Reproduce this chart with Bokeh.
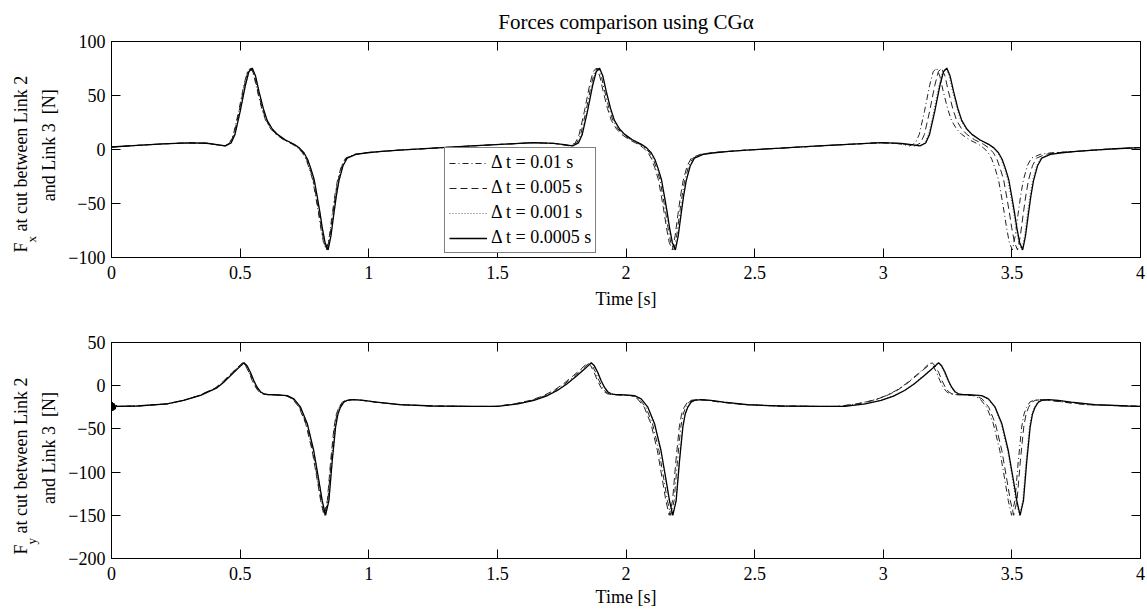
import math
from bokeh.plotting import figure
from bokeh.models import Range1d, LinearAxis, FixedTicker, Legend, LegendItem
from bokeh.layouts import column, row
from bokeh.embed import file_html
from bokeh.resources import INLINE
from bokeh.core.properties import value

FONT = "Liberation Serif"

# ---------------- data ----------------
title_text = "Forces comparison using CG\u03b1"
series_names = ["\u0394 t = 0.01 s", "\u0394 t = 0.005 s", "\u0394 t = 0.001 s", "\u0394 t = 0.0005 s"]

x_ticks = [0, 0.5, 1, 1.5, 2, 2.5, 3, 3.5, 4]
x_tick_labels = ["0", "0.5", "1", "1.5", "2", "2.5", "3", "3.5", "4"]
fx_ticks = [-100, -50, 0, 50, 100]
fx_tick_labels = ["\u2212100", "\u221250", "0", "50", "100"]
fy_ticks = [-200, -150, -100, -50, 0, 50]
fy_tick_labels = ["\u2212200", "\u2212150", "\u2212100", "\u221250", "0", "50"]

# y-axis label pieces: main letter, subscript, rest of line 1, line 2
fx_label = ["F", "x", "at cut between Link 2", "and Link 3\u00a0 [N]"]
fy_label = ["F", "y", "at cut between Link 2", "and Link 3\u00a0 [N]"]

# Fx values, common to all four step sizes
fx_v_start = [2.3, 3.8, 5.2, 6.2, 5.8, 4.5]
fx_v_cycle = [3.3, 6, 14, 35, 59, 72, 75.4, 68, 54, 38, 27, 19, 14, 9, 4.8, 1.5, -3, -9, -17, -28,
              -44, -58, -72, -86, -93, -80, -60, -43, -29, -15, -8, -4.5, -3]
fx_v_mid = [-1.8, -0.5, 1.2, 3.3, 5.2, 6.3, 5.6, 4.5]
fx_v_end = [-1.8, -0.5, 0.7, 1.8]
fx_v = fx_v_start + fx_v_cycle + fx_v_mid + fx_v_cycle + fx_v_mid + fx_v_cycle + fx_v_end

fx_t_0005 = [0.00, 0.10, 0.20, 0.30, 0.37, 0.41,
             0.443, 0.465, 0.48, 0.50, 0.52, 0.534, 0.547, 0.56, 0.573, 0.59, 0.605, 0.625, 0.645, 0.675, 0.71,
             0.73, 0.748, 0.762, 0.774, 0.788, 0.80, 0.81, 0.819, 0.83, 0.842, 0.853, 0.864, 0.874, 0.884,
             0.90, 0.916, 0.95, 0.994,
             1.05, 1.12, 1.25, 1.40, 1.55, 1.64, 1.72, 1.76,
             1.793, 1.815, 1.83, 1.85, 1.87, 1.884, 1.897, 1.91, 1.923, 1.94, 1.955, 1.975, 1.995, 2.025, 2.06,
             2.08, 2.098, 2.112, 2.124, 2.138, 2.15, 2.16, 2.169, 2.18, 2.192, 2.203, 2.214, 2.224, 2.234,
             2.25, 2.266, 2.30, 2.344,
             2.40, 2.47, 2.60, 2.75, 2.90, 2.99, 3.07, 3.11,
             3.143, 3.165, 3.18, 3.20, 3.22, 3.234, 3.247, 3.26, 3.273, 3.29, 3.305, 3.325, 3.345, 3.375, 3.41,
             3.43, 3.448, 3.462, 3.474, 3.488, 3.50, 3.51, 3.519, 3.53, 3.542, 3.553, 3.564, 3.574, 3.584,
             3.60, 3.616, 3.65, 3.694,
             3.75, 3.82, 3.90, 4.00]
fx_t_001 = [0.00, 0.10, 0.20, 0.30, 0.37, 0.41,
            0.443, 0.465, 0.48, 0.50, 0.52, 0.534, 0.547, 0.56, 0.573, 0.59, 0.605, 0.625, 0.645, 0.675, 0.71,
            0.73, 0.748, 0.762, 0.774, 0.788, 0.80, 0.81, 0.819, 0.83, 0.842, 0.853, 0.864, 0.874, 0.884,
            0.90, 0.916, 0.95, 0.994,
            1.05, 1.12, 1.25, 1.40, 1.55, 1.64, 1.72, 1.76,
            1.792, 1.814, 1.829, 1.849, 1.869, 1.883, 1.896, 1.909, 1.922, 1.939, 1.954, 1.974, 1.994, 2.024,
            2.059, 2.079, 2.097, 2.111, 2.123, 2.137, 2.149, 2.159, 2.168, 2.179, 2.191, 2.202, 2.213, 2.223,
            2.233, 2.249, 2.265, 2.299, 2.343,
            2.40, 2.47, 2.60, 2.75, 2.90, 2.99, 3.07, 3.105,
            3.139, 3.161, 3.176, 3.196, 3.216, 3.230, 3.243, 3.256, 3.269, 3.286, 3.301, 3.321, 3.341, 3.371,
            3.406, 3.426, 3.444, 3.458, 3.470, 3.484, 3.496, 3.506, 3.515, 3.526, 3.538, 3.549, 3.560, 3.570,
            3.580, 3.596, 3.612, 3.646, 3.690,
            3.75, 3.82, 3.90, 4.00]
fx_t_005 = [0.00, 0.10, 0.20, 0.30, 0.37, 0.407,
            0.439, 0.461, 0.476, 0.496, 0.516, 0.530, 0.543, 0.556, 0.569, 0.586, 0.601, 0.621, 0.641, 0.671,
            0.706, 0.726, 0.744, 0.758, 0.770, 0.784, 0.796, 0.806, 0.815, 0.826, 0.838, 0.849, 0.860, 0.870,
            0.880, 0.896, 0.912, 0.946, 0.990,
            1.05, 1.12, 1.25, 1.40, 1.55, 1.64, 1.72, 1.75,
            1.781, 1.803, 1.818, 1.838, 1.858, 1.872, 1.885, 1.898, 1.911, 1.928, 1.943, 1.963, 1.983, 2.013,
            2.048, 2.068, 2.086, 2.100, 2.112, 2.126, 2.138, 2.148, 2.157, 2.168, 2.180, 2.191, 2.202, 2.212,
            2.222, 2.238, 2.254, 2.288, 2.332,
            2.40, 2.47, 2.60, 2.75, 2.90, 2.99, 3.06, 3.095,
            3.123, 3.145, 3.16, 3.18, 3.20, 3.214, 3.227, 3.24, 3.253, 3.27, 3.285, 3.305, 3.325, 3.355, 3.39,
            3.41, 3.428, 3.442, 3.454, 3.468, 3.48, 3.49, 3.499, 3.51, 3.522, 3.533, 3.544, 3.554, 3.564,
            3.58, 3.596, 3.63, 3.674,
            3.75, 3.82, 3.90, 4.00]
fx_t_01 = [0.00, 0.10, 0.20, 0.30, 0.37, 0.405,
           0.437, 0.459, 0.474, 0.494, 0.514, 0.528, 0.541, 0.554, 0.567, 0.584, 0.599, 0.619, 0.639, 0.669,
           0.704, 0.724, 0.742, 0.756, 0.768, 0.782, 0.794, 0.804, 0.813, 0.824, 0.836, 0.847, 0.858, 0.868,
           0.878, 0.894, 0.910, 0.944, 0.988,
           1.05, 1.12, 1.25, 1.40, 1.55, 1.64, 1.72, 1.755,
           1.787, 1.809, 1.824, 1.844, 1.864, 1.878, 1.891, 1.904, 1.917, 1.934, 1.949, 1.969, 1.989, 2.019,
           2.054, 2.074, 2.092, 2.106, 2.118, 2.132, 2.144, 2.154, 2.163, 2.174, 2.186, 2.197, 2.208, 2.218,
           2.228, 2.244, 2.260, 2.294, 2.338,
           2.40, 2.47, 2.60, 2.75, 2.90, 2.99, 3.05, 3.08,
           3.103, 3.125, 3.14, 3.16, 3.18, 3.194, 3.207, 3.22, 3.233, 3.25, 3.265, 3.285, 3.305, 3.335, 3.37,
           3.39, 3.408, 3.422, 3.434, 3.448, 3.46, 3.47, 3.479, 3.49, 3.502, 3.513, 3.524, 3.534, 3.544,
           3.56, 3.576, 3.61, 3.654,
           3.75, 3.82, 3.90, 4.00]

# Fy values, common to all four step sizes
fy_v_start = [-24, -19, -29, -20, -28, -21, -27, -23, -24, -23.5, -21, -17, -11.3, -2.5, 5, 11.8, 19.5]
fy_v_cycle = [26.5, 23, 15.6, 6, -1.7, -7, -9.4, -10.3, -10.5, -10.8, -11.5, -15.2, -24.9, -44, -75,
              -109.7, -133, -150, -133, -87, -48, -33, -25, -19, -17, -16, -17, -19, -22]
fy_v_mid = [-23.5, -24, -24, -21, -17, -12, -5.6, 2, 11.8, 19.5]
fy_v_end = [-23.5, -24]
fy_v = fy_v_start + fy_v_cycle + fy_v_mid + fy_v_cycle + fy_v_mid + fy_v_cycle + fy_v_end

fy_t_0005 = [0.000, 0.003, 0.005, 0.007, 0.009, 0.011, 0.014, 0.017, 0.022, 0.10, 0.216, 0.28, 0.346,
             0.41, 0.44, 0.463, 0.49,
             0.515, 0.527, 0.54, 0.553, 0.566, 0.579, 0.592, 0.61, 0.63, 0.655, 0.683, 0.709, 0.735, 0.761,
             0.786, 0.806, 0.819, 0.832, 0.845, 0.858, 0.871, 0.88, 0.89, 0.903, 0.916, 0.942, 0.98, 1.03, 1.123,
             1.25, 1.40, 1.50, 1.58, 1.642, 1.69, 1.733, 1.77, 1.81, 1.84,
             1.865, 1.877, 1.89, 1.903, 1.916, 1.929, 1.942, 1.96, 1.98, 2.005, 2.033, 2.059, 2.085, 2.111,
             2.136, 2.156, 2.169, 2.182, 2.195, 2.208, 2.221, 2.23, 2.24, 2.253, 2.266, 2.292, 2.33, 2.38, 2.473,
             2.6, 2.75, 2.85, 2.93, 2.992, 3.04, 3.083, 3.12, 3.16, 3.19,
             3.215, 3.227, 3.24, 3.253, 3.266, 3.279, 3.292, 3.31, 3.33, 3.355, 3.383, 3.409, 3.435, 3.461,
             3.486, 3.506, 3.519, 3.532, 3.545, 3.558, 3.571, 3.58, 3.59, 3.603, 3.616, 3.642, 3.68, 3.73, 3.823,
             3.95, 4.0]
fy_t_001 = [0.000, 0.003, 0.005, 0.007, 0.009, 0.011, 0.014, 0.017, 0.022, 0.10, 0.216, 0.28, 0.346,
            0.41, 0.44, 0.463, 0.49,
            0.515, 0.527, 0.54, 0.553, 0.566, 0.579, 0.592, 0.61, 0.63, 0.655, 0.683, 0.709, 0.735, 0.761,
            0.786, 0.806, 0.819, 0.832, 0.845, 0.858, 0.871, 0.88, 0.89, 0.903, 0.916, 0.942, 0.98, 1.03, 1.123,
            1.25, 1.40, 1.50, 1.58, 1.641, 1.689, 1.732, 1.769, 1.809, 1.839,
            1.864, 1.876, 1.889, 1.902, 1.915, 1.928, 1.941, 1.959, 1.979, 2.004, 2.032, 2.058, 2.084, 2.110,
            2.135, 2.155, 2.168, 2.181, 2.194, 2.207, 2.220, 2.229, 2.239, 2.252, 2.265, 2.291, 2.329, 2.379,
            2.472,
            2.6, 2.75, 2.85, 2.927, 2.989, 3.037, 3.080, 3.117, 3.157, 3.187,
            3.212, 3.224, 3.237, 3.250, 3.263, 3.276, 3.289, 3.307, 3.327, 3.352, 3.380, 3.406, 3.432, 3.458,
            3.483, 3.503, 3.516, 3.529, 3.542, 3.555, 3.568, 3.577, 3.587, 3.600, 3.613, 3.639, 3.677, 3.727,
            3.82,
            3.95, 4.0]
fy_t_005 = [0.000, 0.003, 0.005, 0.007, 0.009, 0.011, 0.014, 0.017, 0.022, 0.10, 0.216, 0.28, 0.34,
            0.404, 0.434, 0.457, 0.484,
            0.509, 0.521, 0.534, 0.547, 0.560, 0.573, 0.586, 0.604, 0.624, 0.649, 0.677, 0.703, 0.729, 0.755,
            0.780, 0.800, 0.813, 0.826, 0.839, 0.852, 0.865, 0.874, 0.884, 0.897, 0.910, 0.936, 0.974, 1.024,
            1.117,
            1.25, 1.40, 1.49, 1.566, 1.628, 1.676, 1.719, 1.756, 1.796, 1.826,
            1.851, 1.863, 1.876, 1.889, 1.902, 1.915, 1.928, 1.946, 1.966, 1.991, 2.019, 2.045, 2.071, 2.097,
            2.122, 2.142, 2.155, 2.168, 2.181, 2.194, 2.207, 2.216, 2.226, 2.239, 2.252, 2.278, 2.316, 2.366,
            2.459,
            2.6, 2.75, 2.82, 2.90, 2.962, 3.01, 3.053, 3.09, 3.13, 3.16,
            3.19, 3.202, 3.215, 3.228, 3.241, 3.254, 3.267, 3.285, 3.305, 3.33, 3.358, 3.384, 3.41, 3.436,
            3.461, 3.481, 3.494, 3.507, 3.52, 3.533, 3.546, 3.555, 3.565, 3.578, 3.591, 3.617, 3.655, 3.705,
            3.798,
            3.95, 4.0]
fy_t_01 = [0.000, 0.003, 0.005, 0.007, 0.009, 0.011, 0.014, 0.017, 0.022, 0.10, 0.216, 0.28, 0.342,
           0.406, 0.436, 0.459, 0.486,
           0.511, 0.523, 0.536, 0.549, 0.562, 0.575, 0.588, 0.606, 0.626, 0.651, 0.679, 0.705, 0.731, 0.757,
           0.782, 0.802, 0.815, 0.828, 0.841, 0.854, 0.867, 0.876, 0.886, 0.899, 0.912, 0.938, 0.976, 1.026,
           1.12,
           1.25, 1.40, 1.50, 1.572, 1.634, 1.682, 1.725, 1.762, 1.802, 1.832,
           1.857, 1.869, 1.882, 1.895, 1.908, 1.921, 1.934, 1.952, 1.972, 1.997, 2.025, 2.051, 2.077, 2.103,
           2.128, 2.148, 2.161, 2.174, 2.187, 2.200, 2.213, 2.222, 2.232, 2.245, 2.258, 2.284, 2.322, 2.372,
           2.465,
           2.6, 2.75, 2.83, 2.897, 2.959, 3.007, 3.05, 3.087, 3.127, 3.157,
           3.182, 3.194, 3.207, 3.220, 3.233, 3.246, 3.259, 3.277, 3.297, 3.322, 3.35, 3.376, 3.402, 3.428,
           3.453, 3.473, 3.486, 3.499, 3.512, 3.525, 3.538, 3.547, 3.557, 3.57, 3.583, 3.609, 3.647, 3.697,
           3.79,
           3.95, 4.0]

# ---------------- styling ----------------
STYLES = [dict(line_dash="6 3 1 3", line_width=1.0, line_color="#222222"),
          dict(line_dash="7 4", line_width=1.0, line_color="#222222"),
          dict(line_dash="1 2", line_width=1.0, line_color="#666666"),
          dict(line_dash="solid", line_width=1.3, line_color="black")]

LABEL_W = 60
MAIN_W = 1147 - LABEL_W


def make_fig(height, b_top, b_bottom, yr, yt, ytl, lab_standoff, ax_standoff, title=None):
    p = figure(width=MAIN_W, height=height, x_range=Range1d(0, 4), y_range=Range1d(*yr),
               output_backend="svg", toolbar_location=None, title=title,
               min_border_left=111 - LABEL_W, min_border_right=7, min_border_top=b_top,
               min_border_bottom=b_bottom)
    p.xgrid.visible = False
    p.ygrid.visible = False
    p.outline_line_color = "black"
    p.outline_line_width = 1
    p.background_fill_color = "white"
    p.border_fill_color = "white"
    for ax, ticks, labels in ((p.xaxis[0], x_ticks, x_tick_labels), (p.yaxis[0], yt, ytl)):
        ax.ticker = FixedTicker(ticks=ticks)
        ax.major_label_overrides = {t: l for t, l in zip(ticks, labels)}
        ax.major_tick_in = 9
        ax.major_tick_out = 0
        ax.minor_tick_line_color = None
        ax.axis_line_color = "black"
        ax.major_tick_line_color = "black"
        ax.major_label_text_font = FONT
        ax.major_label_text_font_size = "18px"
        ax.major_label_text_color = "black"
    p.yaxis[0].major_label_standoff = 6
    p.xaxis[0].major_label_standoff = lab_standoff
    p.xaxis[0].axis_label = "Time [s]"
    p.xaxis[0].axis_label_text_font = FONT
    p.xaxis[0].axis_label_text_font_size = "18px"
    p.xaxis[0].axis_label_text_font_style = "normal"
    p.xaxis[0].axis_label_text_color = "black"
    p.xaxis[0].axis_label_standoff = ax_standoff
    for side, ticks in (("above", x_ticks), ("right", yt)):
        ax = LinearAxis(ticker=FixedTicker(ticks=ticks), major_label_text_font_size="1px",
                        major_label_text_color=None,
                        major_label_standoff=0, major_tick_in=9, major_tick_out=0,
                        minor_tick_line_color=None, axis_line_color="black",
                        major_tick_line_color="black")
        p.add_layout(ax, side)
    return p


def label_fig(main, b_top, b_bottom, pieces, y_f, y_sub, y_at, y_mid):
    """Narrow panel, aligned with the main plot's frame, holding the rotated y-axis label."""
    lf = figure(width=LABEL_W, height=main.height, x_range=Range1d(0, LABEL_W), y_range=main.y_range,
                output_backend="svg", toolbar_location=None, x_axis_type=None, y_axis_type=None,
                min_border_left=0, min_border_right=0, min_border_top=b_top,
                min_border_bottom=b_bottom)
    lf.grid.visible = False
    lf.outline_line_color = None
    lf.background_fill_color = "white"
    lf.border_fill_color = "white"
    big = dict(angle=math.pi / 2, text_font=value(FONT), text_color="black",
               text_baseline="middle", text_font_size=value("18px"))
    lf.text(x=[20], y=[y_f], text=[pieces[0]], text_align="left", **big)
    lf.text(x=[20], y=[y_at], text=[pieces[2]], text_align="left", **big)
    lf.text(x=[48], y=[y_mid], text=[pieces[3]], text_align="center", **big)
    small = dict(big)
    small["text_font_size"] = value("13px")
    lf.text(x=[31], y=[y_sub], text=[pieces[1]], text_align="left", **small)
    return lf


def add_series(p, times, vals, with_legend):
    rs = []
    for t, st in zip(times, STYLES):
        rs.append(p.line(t, vals, **st))
    if with_legend:
        items = [LegendItem(label=n, renderers=[r]) for n, r in zip(series_names, rs)]
        leg = Legend(items=items, location=(333, 4), border_line_color="black", border_line_width=1,
                     background_fill_color="white", background_fill_alpha=1.0,
                     label_text_font=FONT, label_text_font_size="18px", label_text_color="black",
                     glyph_width=38, glyph_height=20, label_height=21, spacing=4, padding=4,
                     margin=0, label_standoff=4)
        p.add_layout(leg)


H1, H2 = 315, 298

p1 = make_fig(H1, 40, 58, (-100, 100), fx_ticks, fx_tick_labels, 8, 7, title=title_text)
p1.title.align = "center"
p1.title.text_font = FONT
p1.title.text_font_size = "21px"
p1.title.text_font_style = "normal"
p1.title.text_color = "black"
p1.title.standoff = 15
add_series(p1, [fx_t_01, fx_t_005, fx_t_001, fx_t_0005], fx_v, True)
l1 = label_fig(p1, 40, 58, fx_label, -95.4, -86.2, -76.0, 4)

p2 = make_fig(H2, 27, 55, (-200, 50), fy_ticks, fy_tick_labels, 8, 4)
add_series(p2, [fy_t_01, fy_t_005, fy_t_001, fy_t_0005], fy_v, False)
l2 = label_fig(p2, 27, 55, fy_label, -195.4, -183.8, -171.1, -72)

layout = column(row(l1, p1, spacing=0), row(l2, p2, spacing=0), spacing=0)
open("out.html", "w").write(file_html(layout, INLINE))
